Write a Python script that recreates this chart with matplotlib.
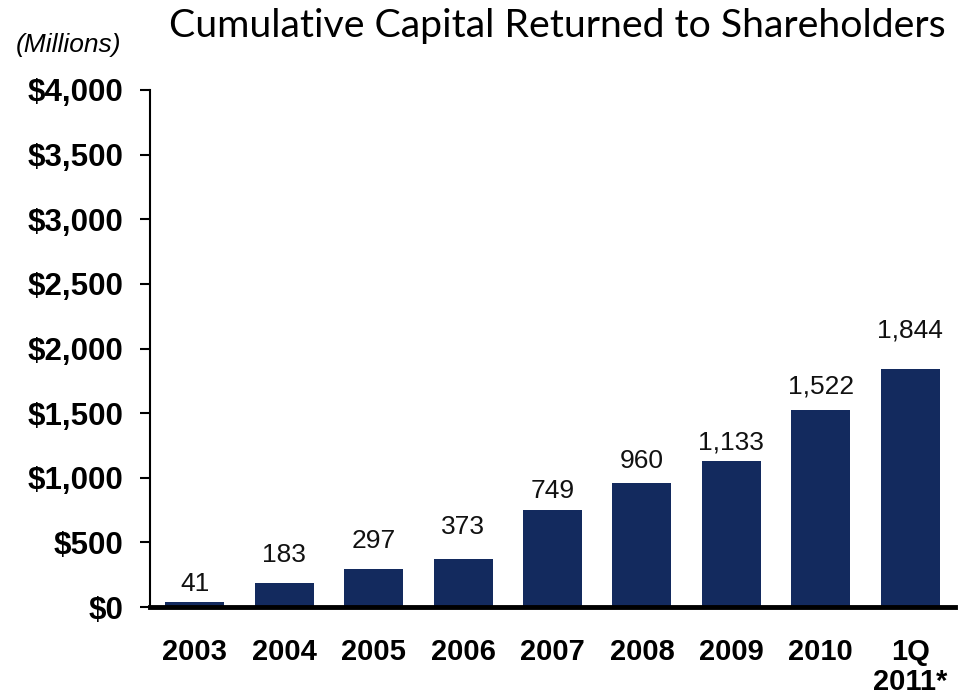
import matplotlib
matplotlib.use("Agg")
import matplotlib.pyplot as plt

categories = ["2003", "2004", "2005", "2006", "2007", "2008", "2009", "2010", "1Q\n2011*"]
values = [41, 183, 297, 373, 749, 960, 1133, 1522, 1844]
yticks = [0, 500, 1000, 1500, 2000, 2500, 3000, 3500, 4000]
ytick_labels = ["$0", "$500", "$1,000", "$1,500", "$2,000", "$2,500", "$3,000", "$3,500", "$4,000"]
title = "Cumulative Capital Returned to Shareholders"
unit_label = "(Millions)"

# style: gap (in pixels) between each bar top and its label baseline, as placed in the original
label_gaps_px = [11, 21, 21, 25, 12, 15, 11, 17, 31]

bar_color = "#132A5E"

fig = plt.figure(figsize=(9.69, 6.97), dpi=100)
ax = fig.add_axes([0.1548, 0.1291, 0.8307, 0.7418])

x = list(range(len(categories)))
ax.bar(x, values, width=0.66, color=bar_color, zorder=2)
for xi, v, g in zip(x, values, label_gaps_px):
    ax.annotate(f"{v:,}", (xi, v), xytext=(0, g * 0.72), textcoords="offset points",
                ha="center", va="baseline", fontsize=19, family="Liberation Sans", color="#111111")

ax.set_xlim(-0.5, len(categories) - 0.5)
ax.set_ylim(0, 4000)
ax.set_yticks(yticks)
ax.set_yticklabels(ytick_labels, fontsize=22.5, fontweight="bold", family="Liberation Sans")
ax.set_xticks(x)
ax.set_xticklabels(categories, fontsize=21, fontweight="bold", family="Liberation Sans", linespacing=1.1)
ax.tick_params(axis="y", length=7, width=1.5, pad=12, direction="out")
ax.tick_params(axis="x", length=0, pad=22)
for lab in ax.get_xticklabels():
    lab.set_verticalalignment("top")

ax.spines["top"].set_visible(False)
ax.spines["right"].set_visible(False)
ax.spines["left"].set_linewidth(1.5)
ax.spines["bottom"].set_linewidth(3.5)
ax.spines["bottom"].set_zorder(3)

fig.text(0.575, 0.963, title, ha="center", va="center", fontsize=28.3, family="Lato")
fig.text(0.071, 0.935, unit_label, ha="center", va="center", fontsize=19, style="italic", family="Liberation Sans")

fig.savefig("out.png", dpi=100)
